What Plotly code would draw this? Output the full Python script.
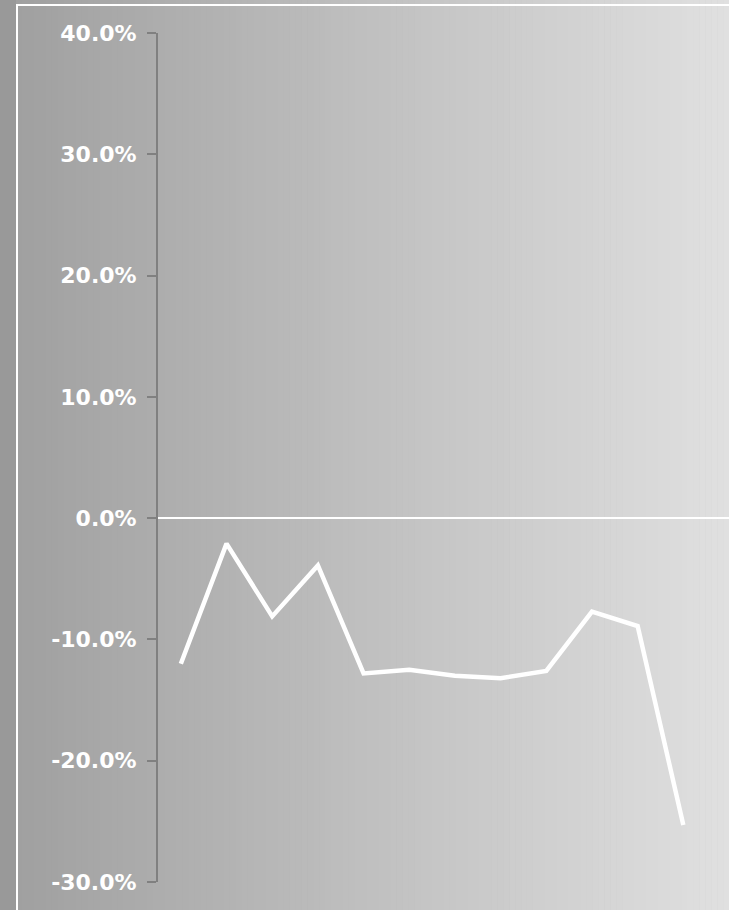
import plotly.graph_objects as go

categories = [str(i) for i in range(1, 13)]
values = [-12.0, -2.1, -8.1, -3.9, -12.8, -12.5, -13.0, -13.2, -12.6, -7.7, -8.9, -25.3]
tick_vals = [-30, -20, -10, 0, 10, 20, 30, 40]
tick_text = [f"{v:.1f}%" for v in tick_vals]

W, H = 729, 910
L, R, T, B = 158, 0, 33, 28
pw, ph = W - L - R, H - T - B

def px_to_paper_x(px):
    return (px - L) / pw

def px_to_paper_y(py):
    return (H - B - py) / ph

shapes = []
# gradient background strips from x=16 to right edge
n = 120
x_start, x_end = 16, W
c0, c1 = 0xA0, 0xE0
for i in range(n):
    xa = x_start + (x_end - x_start) * i / n
    xb = x_start + (x_end - x_start) * (i + 1) / n + 0.6
    c = int(round(c0 + (c1 - c0) * (i + 0.5) / n))
    col = f"rgb({c},{c},{c})"
    shapes.append(dict(type="rect", xref="paper", yref="paper",
                       x0=px_to_paper_x(xa), x1=px_to_paper_x(xb),
                       y0=px_to_paper_y(H), y1=px_to_paper_y(0),
                       fillcolor=col, line=dict(width=0), layer="below"))
# white border lines
shapes.append(dict(type="line", xref="paper", yref="paper",
                   x0=px_to_paper_x(17), x1=px_to_paper_x(17),
                   y0=px_to_paper_y(5), y1=px_to_paper_y(H),
                   line=dict(color="white", width=2), layer="below"))
shapes.append(dict(type="line", xref="paper", yref="paper",
                   x0=px_to_paper_x(16), x1=px_to_paper_x(W),
                   y0=px_to_paper_y(5), y1=px_to_paper_y(5),
                   line=dict(color="white", width=2), layer="below"))

fig = go.Figure()
fig.add_trace(go.Scatter(x=categories, y=values, mode="lines",
                         line=dict(color="white", width=4.5),
                         hoverinfo="skip"))

fig.update_layout(
    width=W, height=H,
    margin=dict(l=L, r=R, t=T, b=B, pad=0),
    paper_bgcolor="#999999",
    plot_bgcolor="rgba(0,0,0,0)",
    showlegend=False,
    shapes=shapes,
    xaxis=dict(type="category", range=[-0.5, 12.0], showgrid=False,
               showline=False, showticklabels=False, zeroline=False, ticks=""),
    yaxis=dict(range=[-30, 40], tickvals=tick_vals, ticktext=tick_text,
               showgrid=False, zeroline=True, zerolinecolor="white", zerolinewidth=2,
               showline=True, linecolor="#808080", linewidth=2,
               ticks="outside", ticklen=9, tickcolor="#808080", tickwidth=2,
               ticklabelstandoff=6,
               tickfont=dict(family="DejaVu Sans", size=22, color="white", weight="bold")),
)

fig.write_html("out.html", config={"displayModeBar": False},
               post_script="document.body.style.margin='0';document.body.style.overflow='hidden';")
